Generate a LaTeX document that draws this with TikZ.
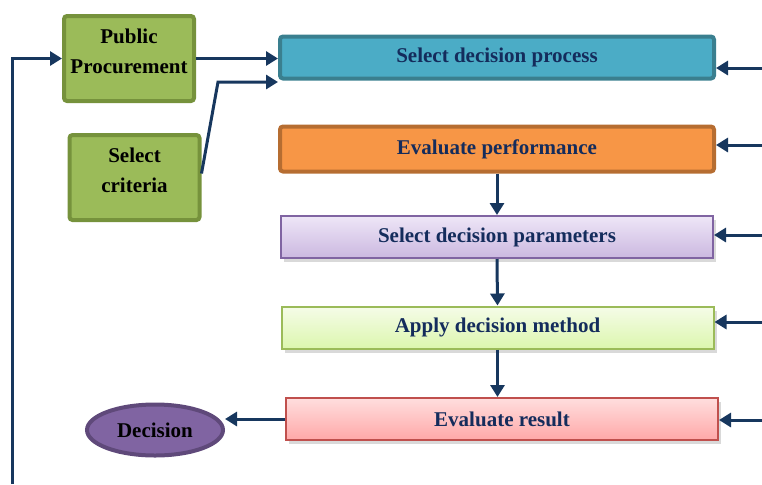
\documentclass[tikz,border=0pt]{standalone}
\usepackage{fontspec}
\setmainfont{Liberation Serif}
\usetikzlibrary{arrows.meta,shapes.geometric,shadows}

\definecolor{arrowblue}{HTML}{17375E}
\definecolor{textblue}{HTML}{142C5C}
\definecolor{olivefill}{HTML}{9BBB59}
\definecolor{oliveline}{HTML}{76923C}
\definecolor{tealfill}{HTML}{4BACC6}
\definecolor{tealline}{HTML}{3A7F8F}
\definecolor{orangefill}{HTML}{F79646}
\definecolor{orangeline}{HTML}{B66D31}
\definecolor{purpleline}{HTML}{8064A2}
\definecolor{purpledark}{HTML}{5F497A}
\definecolor{purpletop}{HTML}{EEE6F7}
\definecolor{purplebot}{HTML}{CBB8E0}
\definecolor{limeline}{HTML}{9BBB59}
\definecolor{limetop}{HTML}{F5FCE8}
\definecolor{limebot}{HTML}{DCF6AE}
\definecolor{redline}{HTML}{C0504D}
\definecolor{redtop}{HTML}{FFDEDE}
\definecolor{redbot}{HTML}{FFA8A8}

\begin{document}
\begin{tikzpicture}[%
          x=0.5pt, y=-0.5pt,
          font=\fontsize{10.5}{15}\selectfont\bfseries,
          arr/.style={draw=arrowblue, line width=1.5pt, -{Triangle[length=6pt,width=7pt]}},
          greenbox/.style={draw=oliveline, fill=olivefill, line width=2pt, rounded corners=1.5pt,
                           align=center, inner sep=0pt, minimum width=65pt, minimum height=42.5pt},
          stepbox/.style={line width=2pt, rounded corners=1.5pt, text=textblue, inner sep=0pt,
                          minimum width=217pt, minimum height=21pt},
          shadebox/.style={line width=1pt, text=textblue, inner sep=0pt,
                           minimum width=216pt, minimum height=21pt,
                           drop shadow={shadow xshift=1.5pt, shadow yshift=-2pt, opacity=0.3}}]

  \useasboundingbox (0,0) rectangle (762,484);

  \node[greenbox] (pp) at (129, 58.5) {Public\\Procurement\\[-8pt]\mbox{}};
  \node[greenbox] (crit) at (134.5, 177.5) {Select\\criteria\\[-8pt]\mbox{}};

  \node[stepbox, draw=tealline, fill=tealfill] (sdp) at (497, 57.5) {Select decision process};
  \node[stepbox, draw=orangeline, fill=orangefill, minimum height=22.5pt] (ep) at (497, 149) {Evaluate performance};
  \node[shadebox, draw=purpleline, top color=purpletop, bottom color=purplebot] (sdpar) at (497, 237) {Select decision parameters};
  \node[shadebox, draw=limeline, top color=limetop, bottom color=limebot] (adm) at (497.5, 327.5) {Apply decision method};
  \node[shadebox, draw=redline, top color=redtop, bottom color=redbot] (er) at (502, 419) {Evaluate result};

  \node[ellipse, draw=purpledark, fill=purpleline, line width=2pt, inner sep=0pt,
        minimum width=68pt, minimum height=25.5pt] (dec) at (155, 430) {Decision};

  \coordinate (loopin) at (12, 484);
  \coordinate (bend) at (218, 82);

  \draw[arr] (loopin) |- (pp.west);
  \draw[arr] (pp.east) -- (pp.east -| sdp.west);
  \draw[arr] ([yshift=2pt]crit.east) -- (bend) -- (bend -| sdp.west);

  \draw[arr] (ep.south) -- (sdpar.north);
  \draw[arr] (sdpar.south) -- (adm.north);
  \draw[arr] (adm.south) -- (adm.south |- er.north);

  \draw[arr] (er.west) -- (er.west -| dec.east);

  % feeds from the right edge
  \foreach \n/\y in {sdp/68, ep/145, sdpar/235, adm/322, er/420}
    \draw[arr] (762, \y) -- (\n.east |- 762, \y);

\end{tikzpicture}
\end{document}
